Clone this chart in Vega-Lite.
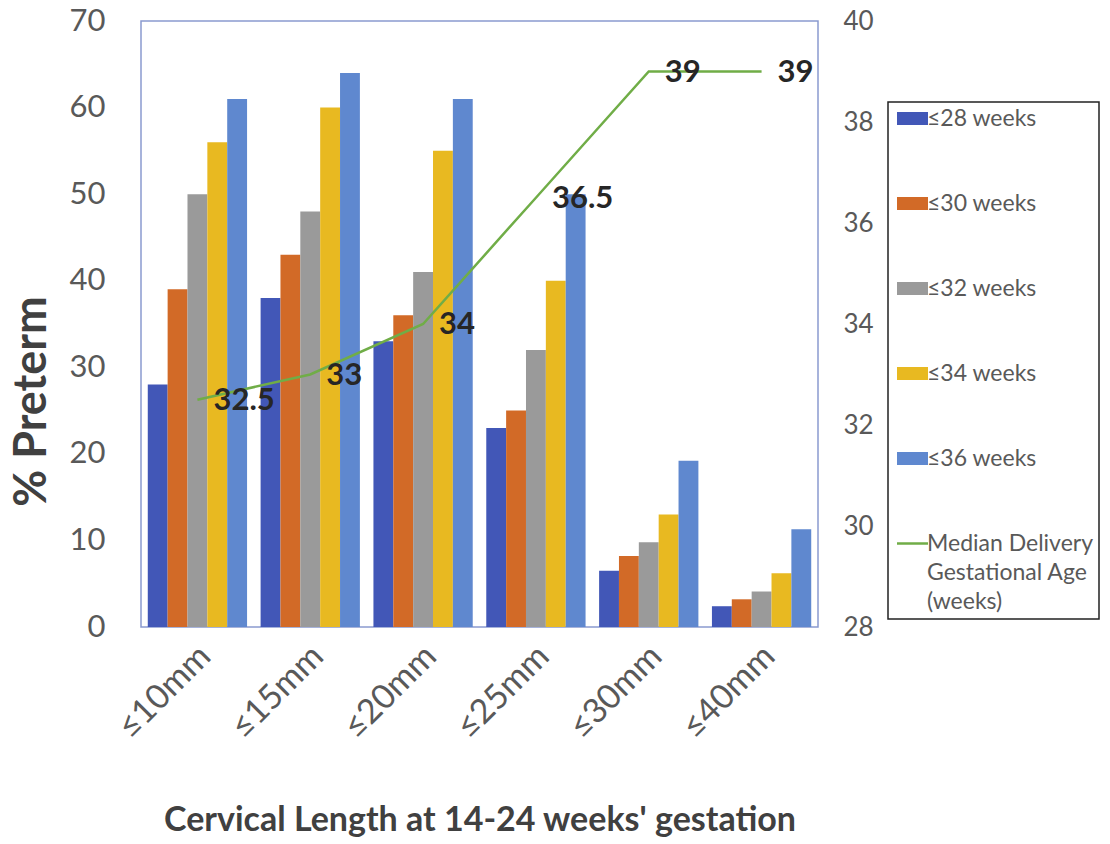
{
  "$schema": "https://vega.github.io/schema/vega-lite/v6.json",
  "width": 677,
  "height": 606,
  "autosize": {"type": "none"},
  "padding": {"left": 141, "top": 21, "right": 292, "bottom": 217},
  "background": "white",
  "config": {
    "font": "Lato",
    "view": {"stroke": "#8a9bd0", "strokeWidth": 1.5},
    "axis": {"grid": false, "ticks": false, "domain": false}
  },
  "datasets": {
    "bars": [
      {"cat": "≤10mm", "series": "≤28 weeks", "pct": 28},
      {"cat": "≤10mm", "series": "≤30 weeks", "pct": 39},
      {"cat": "≤10mm", "series": "≤32 weeks", "pct": 50},
      {"cat": "≤10mm", "series": "≤34 weeks", "pct": 56},
      {"cat": "≤10mm", "series": "≤36 weeks", "pct": 61},
      {"cat": "≤15mm", "series": "≤28 weeks", "pct": 38},
      {"cat": "≤15mm", "series": "≤30 weeks", "pct": 43},
      {"cat": "≤15mm", "series": "≤32 weeks", "pct": 48},
      {"cat": "≤15mm", "series": "≤34 weeks", "pct": 60},
      {"cat": "≤15mm", "series": "≤36 weeks", "pct": 64},
      {"cat": "≤20mm", "series": "≤28 weeks", "pct": 33},
      {"cat": "≤20mm", "series": "≤30 weeks", "pct": 36},
      {"cat": "≤20mm", "series": "≤32 weeks", "pct": 41},
      {"cat": "≤20mm", "series": "≤34 weeks", "pct": 55},
      {"cat": "≤20mm", "series": "≤36 weeks", "pct": 61},
      {"cat": "≤25mm", "series": "≤28 weeks", "pct": 23},
      {"cat": "≤25mm", "series": "≤30 weeks", "pct": 25},
      {"cat": "≤25mm", "series": "≤32 weeks", "pct": 32},
      {"cat": "≤25mm", "series": "≤34 weeks", "pct": 40},
      {"cat": "≤25mm", "series": "≤36 weeks", "pct": 50},
      {"cat": "≤30mm", "series": "≤28 weeks", "pct": 6.5},
      {"cat": "≤30mm", "series": "≤30 weeks", "pct": 8.2},
      {"cat": "≤30mm", "series": "≤32 weeks", "pct": 9.8},
      {"cat": "≤30mm", "series": "≤34 weeks", "pct": 13},
      {"cat": "≤30mm", "series": "≤36 weeks", "pct": 19.2},
      {"cat": "≤40mm", "series": "≤28 weeks", "pct": 2.4},
      {"cat": "≤40mm", "series": "≤30 weeks", "pct": 3.2},
      {"cat": "≤40mm", "series": "≤32 weeks", "pct": 4.1},
      {"cat": "≤40mm", "series": "≤34 weeks", "pct": 6.2},
      {"cat": "≤40mm", "series": "≤36 weeks", "pct": 11.3}
    ],
    "median": [
      {"cat": "≤10mm", "weeks": 32.5, "label": "32.5"},
      {"cat": "≤15mm", "weeks": 33, "label": "33"},
      {"cat": "≤20mm", "weeks": 34, "label": "34"},
      {"cat": "≤25mm", "weeks": 36.5, "label": "36.5"},
      {"cat": "≤30mm", "weeks": 39, "label": "39"},
      {"cat": "≤40mm", "weeks": 39, "label": "39"}
    ]
  },
  "layer": [
    {
      "data": {"name": "bars"},
      "mark": {"type": "bar"},
      "encoding": {
        "x": {
          "field": "cat", "type": "nominal", "sort": null,
          "scale": {"paddingInner": 0.12, "paddingOuter": 0.06},
          "axis": {
            "labelAngle": -45, "labelAlign": "right", "labelBaseline": "middle",
            "labelFontSize": 34, "labelColor": "#595959", "labelPadding": 24, "labelOffset": 8,
            "title": "Cervical Length at 14-24 weeks' gestation",
            "titleFontSize": 34, "titleFontWeight": "bold", "titleColor": "#404040",
            "titleY": 193, "titleBaseline": "middle"
          }
        },
        "xOffset": {"field": "series", "type": "nominal", "sort": null, "scale": {"paddingInner": 0, "paddingOuter": 0}},
        "y": {
          "field": "pct", "type": "quantitative",
          "scale": {"domain": [0, 70], "nice": false},
          "axis": {
            "values": [0, 10, 20, 30, 40, 50, 60, 70],
            "labelFontSize": 31, "labelColor": "#595959", "labelPadding": 36,
            "title": "% Preterm", "titleFontSize": 45, "titleFontWeight": "bold", "titleColor": "#404040",
            "titleX": -110, "titleY": 380, "titleAlign": "center", "titleBaseline": "middle", "titleAngle": -90
          }
        },
        "color": {
          "field": "series", "type": "nominal",
          "scale": {
            "domain": ["≤28 weeks", "≤30 weeks", "≤32 weeks", "≤34 weeks", "≤36 weeks", "Median Delivery Gestational Age (weeks)"],
            "range": ["#4257b7", "#d26a27", "#9a9a9a", "#e8b921", "#5f88cf", "#70ad47"]
          },
          "legend": {
            "title": null,
            "orient": "none",
            "legendX": 747,
            "legendY": 81,
            "direction": "vertical",
            "padding": 5,
            "strokeColor": "#222222",
            "labelFont": "Lato",
            "labelFontSize": 23,
            "labelColor": "#595959",
            "labelOffset": 3,
            "labelLimit": 300,
            "symbolSize": 961,
            "symbolOffset": 8,
            "rowPadding": 61,
            "labelExpr": "datum.label === 'Median Delivery Gestational Age (weeks)' ? ['Median Delivery', 'Gestational Age', '(weeks)'] : datum.label",
            "encode": {
              "legend": {"update": {"strokeWidth": {"value": 1.5}}},
              "labels": {"update": {"lineHeight": {"value": 29}}},
              "symbols": {
                "update": {
                  "shape": {"signal": "datum.value === 'Median Delivery Gestational Age (weeks)' ? 'stroke' : 'M-1,-0.42H1V0.42H-1Z'"},
                  "stroke": {"signal": "datum.value === 'Median Delivery Gestational Age (weeks)' ? '#70ad47' : 'transparent'"},
                  "strokeWidth": {"signal": "datum.value === 'Median Delivery Gestational Age (weeks)' ? 2.5 : 0"}
                }
              }
            }
          }
        }
      }
    },
    {
      "data": {"name": "median"},
      "mark": {"type": "line", "color": "#70ad47", "strokeWidth": 2.5},
      "encoding": {
        "x": {"field": "cat", "type": "nominal", "sort": null},
        "y": {
          "field": "weeks", "type": "quantitative",
          "scale": {"domain": [28, 40], "nice": false},
          "axis": {
            "orient": "right", "values": [28, 30, 32, 34, 36, 38, 40],
            "labelFontSize": 26, "labelColor": "#595959", "labelPadding": 25, "title": null
          }
        }
      }
    },
    {
      "data": {"name": "median"},
      "mark": {"type": "text", "align": "left", "baseline": "middle", "dx": 16, "dy": 1, "fontSize": 31, "fontWeight": "bold", "color": "#262626"},
      "encoding": {
        "x": {"field": "cat", "type": "nominal", "sort": null},
        "y": {"field": "weeks", "type": "quantitative", "scale": {"domain": [28, 40], "nice": false}, "axis": null},
        "text": {"field": "label"}
      }
    }
  ],
  "resolve": {"scale": {"y": "independent"}}
}
